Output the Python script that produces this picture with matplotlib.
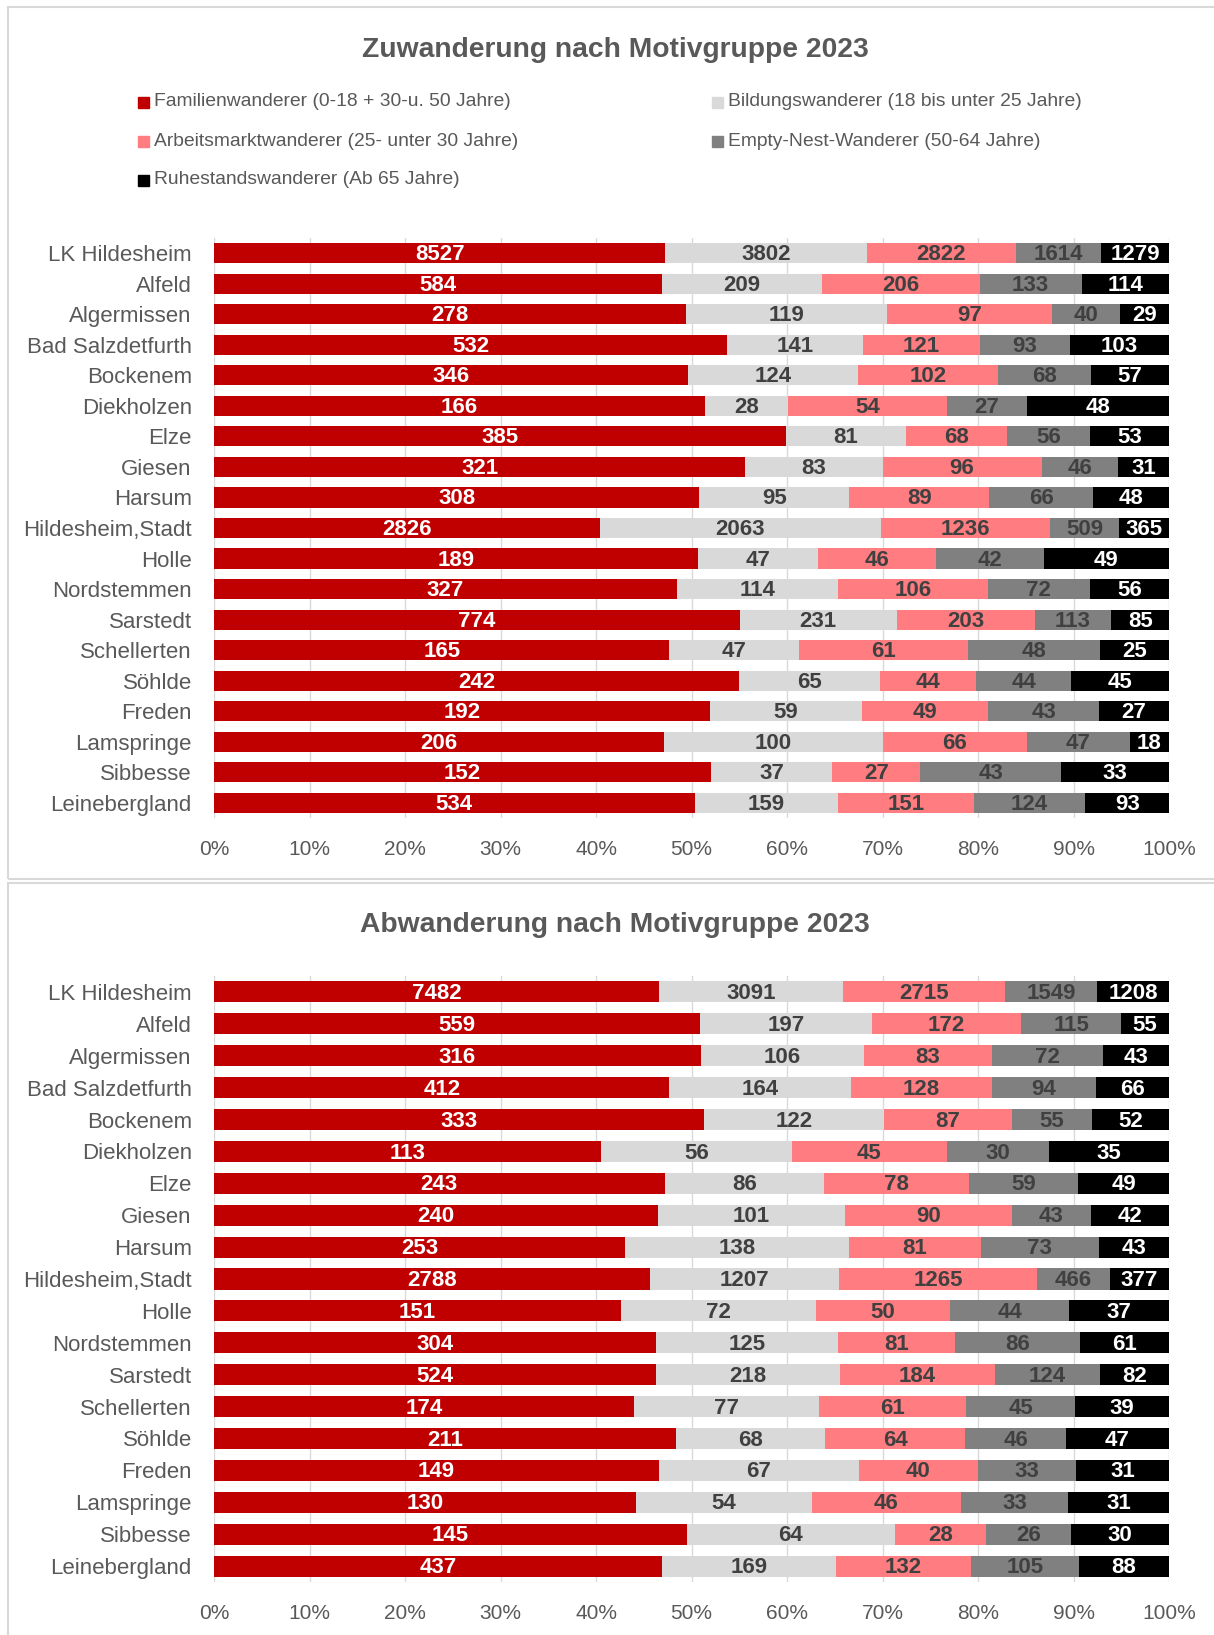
import matplotlib.pyplot as plt
from matplotlib.patches import Rectangle

# -------------------------------
# Data
# -------------------------------
orte = ["LK Hildesheim", "Alfeld", "Algermissen", "Bad Salzdetfurth", "Bockenem",
        "Diekholzen", "Elze", "Giesen", "Harsum", "Hildesheim,Stadt", "Holle",
        "Nordstemmen", "Sarstedt", "Schellerten", "Söhlde", "Freden",
        "Lamspringe", "Sibbesse", "Leinebergland"]

gruppen = ["Familienwanderer (0-18 + 30-u. 50 Jahre)",
           "Bildungswanderer (18 bis unter 25 Jahre)",
           "Arbeitsmarktwanderer (25- unter 30 Jahre)",
           "Empty-Nest-Wanderer (50-64 Jahre)",
           "Ruhestandswanderer (Ab 65 Jahre)"]

familien_zu = [8527, 584, 278, 532, 346, 166, 385, 321, 308, 2826, 189, 327, 774, 165, 242, 192, 206, 152, 534]
bildung_zu = [3802, 209, 119, 141, 124, 28, 81, 83, 95, 2063, 47, 114, 231, 47, 65, 59, 100, 37, 159]
arbeit_zu = [2822, 206, 97, 121, 102, 54, 68, 96, 89, 1236, 46, 106, 203, 61, 44, 49, 66, 27, 151]
empty_zu = [1614, 133, 40, 93, 68, 27, 56, 46, 66, 509, 42, 72, 113, 48, 44, 43, 47, 43, 124]
ruhe_zu = [1279, 114, 29, 103, 57, 48, 53, 31, 48, 365, 49, 56, 85, 25, 45, 27, 18, 33, 93]

familien_ab = [7482, 559, 316, 412, 333, 113, 243, 240, 253, 2788, 151, 304, 524, 174, 211, 149, 130, 145, 437]
bildung_ab = [3091, 197, 106, 164, 122, 56, 86, 101, 138, 1207, 72, 125, 218, 77, 68, 67, 54, 64, 169]
arbeit_ab = [2715, 172, 83, 128, 87, 45, 78, 90, 81, 1265, 50, 81, 184, 61, 64, 40, 46, 28, 132]
empty_ab = [1549, 115, 72, 94, 55, 30, 59, 43, 73, 466, 44, 86, 124, 45, 46, 33, 33, 26, 105]
ruhe_ab = [1208, 55, 43, 66, 52, 35, 49, 42, 43, 377, 37, 61, 82, 39, 47, 31, 31, 30, 88]

farben = ["#C00000", "#D9D9D9", "#FF7C80", "#808080", "#000000"]
label_farben = ["white", "#404040", "#404040", "#404040", "white"]
TXT = "#595959"

plt.rcParams['font.family'] = ['Liberation Sans Narrow', 'Liberation Sans', 'DejaVu Sans']

W, H = 1214, 1635
fig = plt.figure(figsize=(W / 100, H / 100), dpi=100)


def fx(px):
    return px / W


def fy(py):
    return 1 - py / H


# panel frames
for top, bottom in [(7, 879), (883, 1640)]:
    fig.patches.append(Rectangle((fx(8), fy(bottom)), fx(1220) - fx(8), fy(top) - fy(bottom),
                                 transform=fig.transFigure, fill=False,
                                 edgecolor="#D9D9D9", lw=1.5, zorder=0))


def stacked(ax, serien):
    n = len(orte)
    totals = [sum(s[i] for s in serien) for i in range(n)]
    left = [0.0] * n
    for k, s in enumerate(serien):
        anteile = [v / t for v, t in zip(s, totals)]
        ax.barh(range(n), anteile, left=left, height=0.66, color=farben[k], zorder=2)
        for i, (v, a) in enumerate(zip(s, anteile)):
            ax.text(left[i] + a / 2, i + 0.05, str(v), ha="center", va="center",
                    color=label_farben[k], fontsize=16, fontweight="bold", zorder=3)
        left = [l + a for l, a in zip(left, anteile)]
    ax.set_xlim(0, 1)
    ax.set_ylim(n - 0.5, -0.5)
    ax.set_yticks(range(n))
    ax.set_yticklabels(orte, fontsize=16, color=TXT)
    ax.set_xticks([i / 10 for i in range(11)])
    ax.set_xticklabels([f"{i * 10}%" for i in range(11)], fontsize=15, color=TXT)
    ax.tick_params(length=0)
    ax.tick_params(axis="x", pad=16)
    ax.tick_params(axis="y", pad=16)
    ax.grid(axis="x", color="#D9D9D9", lw=1, zorder=0)
    ax.set_axisbelow(True)
    for sp in ax.spines.values():
        sp.set_visible(False)


# -------------------------------
# Chart 1: Zuwanderung
# -------------------------------
ax1 = fig.add_axes([fx(214), fy(818), fx(1169) - fx(214), fy(238) - fy(818)])
stacked(ax1, [familien_zu, bildung_zu, arbeit_zu, empty_zu, ruhe_zu])
fig.text(fx(615), fy(50), "Zuwanderung nach Motivgruppe 2023", ha="center", va="center",
         fontsize=20.3, fontweight="bold", color=TXT)

# legend (row-wise, two columns)
for k, name in enumerate(gruppen):
    x0 = 138 if k % 2 == 0 else 712
    y0 = [102, 141, 180][k // 2]
    fig.patches.append(Rectangle((fx(x0), fy(y0 + 6)), fx(11), 11 / H,
                                 transform=fig.transFigure, color=farben[k]))
    fig.text(fx(x0 + 16), fy(y0), name, ha="left", va="center", fontsize=13.9, color=TXT)

# -------------------------------
# Chart 2: Abwanderung
# -------------------------------
ax2 = fig.add_axes([fx(214), fy(1582), fx(1169) - fx(214), fy(976) - fy(1582)])
stacked(ax2, [familien_ab, bildung_ab, arbeit_ab, empty_ab, ruhe_ab])
fig.text(fx(615), fy(925), "Abwanderung nach Motivgruppe 2023", ha="center", va="center",
         fontsize=20.3, fontweight="bold", color=TXT)

fig.savefig("out.png", dpi=100)
